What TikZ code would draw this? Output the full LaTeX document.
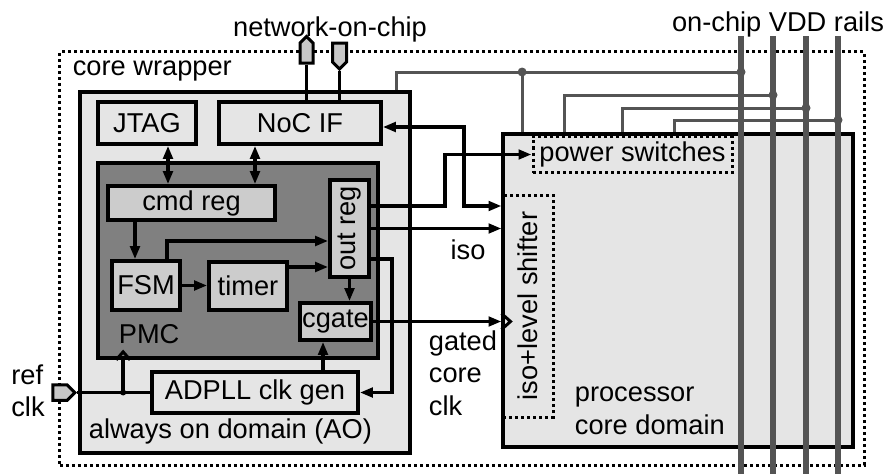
\documentclass[tikz,border=0pt]{standalone}
\usepackage{fontspec}
\setmainfont{Liberation Sans}
\usepackage{graphicx}
\usepackage{tikz}
\usetikzlibrary{positioning,arrows.meta,calc,shapes.symbols}
\usepackage{xcolor}
\definecolor{lightfill}{gray}{0.9}
\definecolor{midfill}{gray}{0.8}
\definecolor{pmcfill}{gray}{0.5}
\definecolor{railgray}{gray}{0.33}
\definecolor{portfill}{gray}{0.78}

\begin{document}
\begin{tikzpicture}[x=0.2mm,y=-0.2mm,>={Triangle[length=2.6mm,width=1.9mm]},
  line width=0.75mm,inner sep=0pt,font=\fontsize{15.5}{18.5}\selectfont,
  blk/.style={draw,fill=midfill},
  lightblk/.style={draw,fill=lightfill},
  dotbox/.style={draw,line width=0.6mm,dash pattern=on 0.6mm off 0.6mm},
  port/.style={shape=signal,draw,fill=portfill,line width=0.6mm},
  pwr/.style={draw=railgray,line width=0.6mm},
  rail/.style={draw=railgray,line width=1.1mm}]
\useasboundingbox (0,0) rectangle (889,474);

\node[dotbox,minimum width=160.8mm,minimum height=82.6mm] (wrapper) at (462,258.5) {};
\node[anchor=base west] (lblwrap) at (71,75) {core wrapper};
\node (lblnoc) at (330,29) {network-on-chip};
\node (lblvdd) at (778,24) {on-chip VDD rails};

\node[lightblk,minimum width=66mm,minimum height=72.2mm] (ao) at (245,272.5) {};
\node[anchor=base west] (lblao) at (87,438) {always on domain (AO)};
\node[lightblk,minimum width=19.6mm,minimum height=8.4mm] (jtag) at (147,123) {JTAG};
\node[lightblk,minimum width=32.4mm,minimum height=8.4mm] (nocif) at (300,123) {NoC IF};
\node[draw,fill=pmcfill,minimum width=56mm,minimum height=39mm] (pmc) at (238,260.5) {};
\node[anchor=base west] (lblpmc) at (117,343) {PMC};
\node[blk,minimum width=33.4mm,minimum height=6.8mm] (cmdreg) at (191.5,203) {cmd reg};
\node[blk,minimum width=13.6mm,minimum height=9.8mm] (fsm) at (146,285.5) {FSM};
\node[blk,minimum width=15.6mm,minimum height=9.6mm] (timer) at (248,286) {timer};
\node[blk,minimum width=7.8mm,minimum height=19.4mm] (outreg) at (349.5,228.5) {\rotatebox{90}{out reg}};
\node[blk,minimum width=14.2mm,minimum height=7.4mm] (cgate) at (335.5,321.5) {cgate};
\node[lightblk,minimum width=41.2mm,minimum height=8.2mm] (adpll) at (255,392.5) {ADPLL clk gen};

\node[lightblk,minimum width=70mm,minimum height=62.6mm] (core) at (678,290.5) {};
\node[dotbox,minimum width=39.8mm,minimum height=7.2mm] (pwrsw) at (632.5,154.5) {power switches};
\node[dotbox,minimum width=10mm,minimum height=44.4mm] (isols) at (528,306) {\rotatebox{90}{iso+level shifter}};
\node[anchor=west,align=left] (lblcore) at (573,411) {processor\\core domain};
\node (lbliso) at (468,250) {iso};
\node[anchor=west,align=left] (lblgclk) at (427,373) {gated\\core\\clk};

\node[port,signal to=north,minimum width=2.6mm,minimum height=4mm] (nocout) at (306.5,53) {};
\node[port,signal to=south,minimum width=2.8mm,minimum height=3.8mm] (nocin) at (339.5,52.5) {};
\node[port,signal to=east,minimum width=4.4mm,minimum height=3.1mm] (refclk) at (60,392.5) {};
\node[align=left] (lblref) at (28,391) {ref\\clk};

\coordinate (j1) at ($(jtag.south)+(21,0)$);
\coordinate (j2) at ($(nocif.south)+(-45,0)$);
\coordinate (j3) at ($(cmdreg.south)+(-56.5,0)$);
\coordinate (j4) at ($(fsm.north)+(21,0)$);
\coordinate (j5) at ($(timer.east)+(0,-19)$);
\coordinate (j6) at ($(cgate.south)+(-12.5,0)$);
\coordinate (j7) at ($(outreg.east)+(0,30.5)$);
\coordinate (j8) at ($(outreg.east)+(0,-22.5)$);
\coordinate (j9) at ($(nocif.east)+(0,4)$);
\coordinate (rj) at ($(adpll.west)+(-27,0)$);

\draw (nocout.south) -- (nocout.south |- nocif.north);
\draw (nocin.south) -- (nocin.south |- nocif.north);
\draw[<->] (j1) -- (j1 |- cmdreg.north);
\draw[<->] (j2) -- (j2 |- cmdreg.north);
\draw[->] (j3) -- (j3 |- fsm.north);
\draw[->] (fsm.east) -- (fsm.east -| timer.west);
\draw[->] (j4) |- ($(outreg.west)+(0,12.5)$);
\draw[->] (j5) -- (j5 -| outreg.west);
\draw[->] (outreg.south) -- (outreg.south |- cgate.north);
\draw[->] (j6 |- adpll.north) -- (j6);
\draw[->] (j7) -- ++(21,0) |- (adpll.east);
\draw[->] (cgate.east) -- (cgate.east -| isols.west);
\draw[->] (j8) -- ++(74,0) |- (pwrsw.west);
\draw[->] (outreg.east) -- (outreg.east -| isols.west);
\draw[<->] (j9) -- ++(81,0) |- (j8 -| isols.west);
\draw (refclk.east) -- (adpll.west);
\draw (rj) -- (rj |- pmc.south);
\fill (rj) circle (3);
\draw[line width=0.6mm] ($(rj |- pmc.south)+(-7,0)$) -- ++(7,-8) -- ++(7,8);
\draw[line width=0.6mm] ($(isols.west |- cgate.east)+(0,-8)$) -- ++(9,8) -- ++(-9,8);

\foreach \x [count=\i] in {741,773,806,838}
  \coordinate (rail\i) at (\x,36);
\coordinate (t1) at ($(rail1)+(0,36)$);
\coordinate (t2) at ($(rail2)+(0,59)$);
\coordinate (t3) at ($(rail3)+(0,72)$);
\coordinate (t4) at ($(rail4)+(0,84)$);
\coordinate (s1) at ($(core.north west)+(21,0)$);
\draw[pwr] ($(ao.north east)+(-15,0)$) |- (t1);
\draw[pwr] (s1) -- (s1 |- t1);
\draw[pwr] (t2) -| ($(core.north west)+(63,0)$);
\draw[pwr] (t3) -| ($(core.north west)+(121,0)$);
\draw[pwr] (t4) -| ($(core.north west)+(173,0)$);
\foreach \i in {1,...,4}
  \draw[rail] (rail\i) -- ++(0,438);
\foreach \p in {t1,t2,t3,t4}
  \fill[railgray] (\p) circle (4.5);
\fill[railgray] (s1 |- t1) circle (4.5);
\end{tikzpicture}
\end{document}
